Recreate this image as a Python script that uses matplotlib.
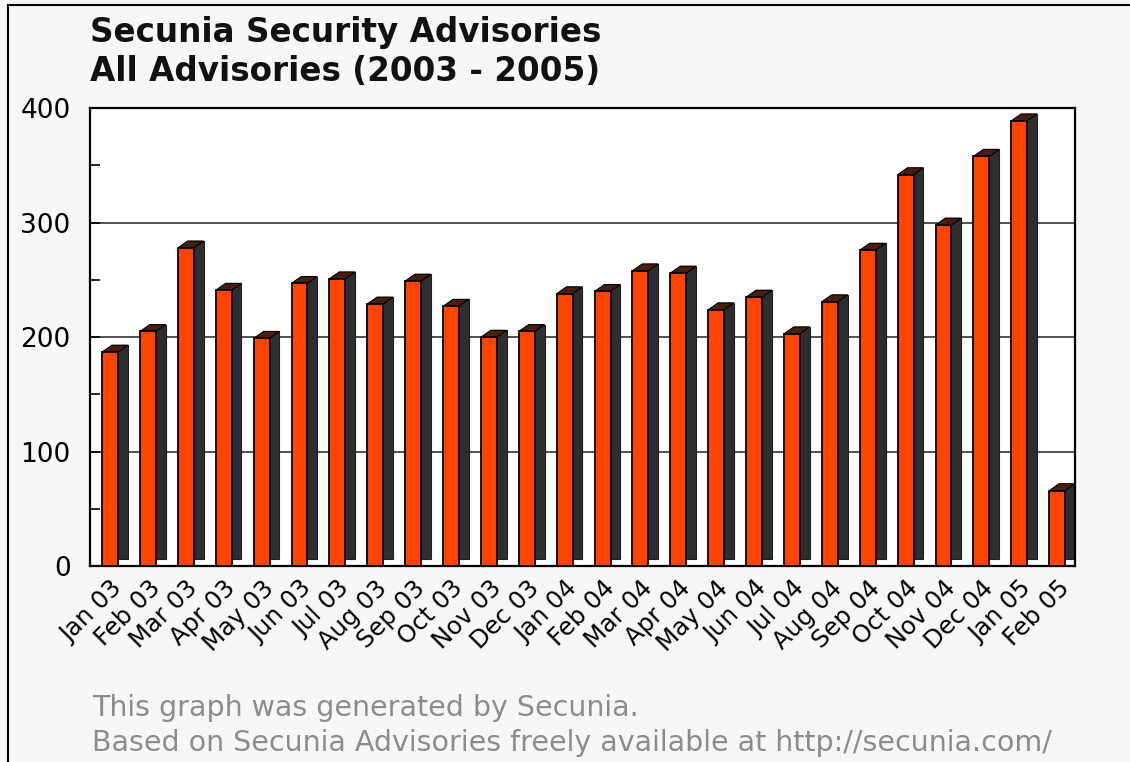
import matplotlib.pyplot as plt
from matplotlib.lines import Line2D

# monthly advisory counts
months = ["Jan 03", "Feb 03", "Mar 03", "Apr 03", "May 03", "Jun 03", "Jul 03",
          "Aug 03", "Sep 03", "Oct 03", "Nov 03", "Dec 03", "Jan 04", "Feb 04",
          "Mar 04", "Apr 04", "May 04", "Jun 04", "Jul 04", "Aug 04", "Sep 04",
          "Oct 04", "Nov 04", "Dec 04", "Jan 05", "Feb 05"]
counts = [187, 205, 278, 241, 199, 247, 251, 229, 249, 227, 200, 205, 238,
          240, 258, 256, 224, 235, 203, 231, 276, 342, 298, 358, 389, 66]
y_ticks = [0, 100, 200, 300, 400]

BAR_W = 0.42
DX = 0.26   # depth offset in x (category units)
DY = 6      # depth offset in y (data units)


def main():
    fig = plt.figure(figsize=(11.3, 7.62), dpi=100, facecolor="#f7f7f7")
    ax = fig.add_axes([0.0796, 0.257, 0.8714, 0.601])
    ax.set_facecolor("white")

    x = list(range(len(counts)))

    # gridlines behind bars
    for t in y_ticks[1:-1]:
        ax.axhline(t, color="#333333", lw=1.2, zorder=0)

    # 3d-ish shadow (back face) and top face
    ax.bar([i + DX for i in x], counts, bottom=DY, width=BAR_W,
           color="#2e2e2e", edgecolor="#1e1e1e", lw=0.8, zorder=1)
    for i, v in zip(x, counts):
        l, r = i - BAR_W / 2, i + BAR_W / 2
        ax.fill([l, r, r + DX, l + DX], [v, v, v + DY, v + DY],
                color="#4a1e0c", edgecolor="black", lw=0.8, zorder=2)
    # front faces
    ax.bar(x, counts, width=BAR_W, color="#ff4400", edgecolor="black",
           lw=1.3, zorder=3)

    ax.set_xlim(-0.53, 25.46)
    ax.set_ylim(0, 400)
    ax.set_yticks(y_ticks)
    ax.set_yticks([50, 150, 250, 350], minor=True)
    ax.tick_params(axis="y", which="both", direction="in", length=7,
                   width=1.2, labelsize=19, pad=14)
    ax.set_xticks(x)
    ax.set_xticklabels(months, rotation=45, ha="right", rotation_mode="anchor",
                       fontsize=17.5)
    ax.tick_params(axis="x", length=0, pad=7)
    for s in ax.spines.values():
        s.set_linewidth(1.6)
        s.set_color("black")

    # title
    fig.text(0.0796, 0.958, "Secunia Security Advisories", fontsize=23.5,
             fontweight="bold", va="center", ha="left", color="#111111")
    fig.text(0.0796, 0.906, "All Advisories (2003 - 2005)", fontsize=23.5,
             fontweight="bold", va="center", ha="left", color="#111111")

    # footer
    fig.text(0.0814, 0.071, "This graph was generated by Secunia.",
             fontsize=20.5, color="#8c8c8c", va="center", ha="left")
    fig.text(0.0814, 0.025,
             "Based on Secunia Advisories freely available at http://secunia.com/",
             fontsize=20.5, color="#8c8c8c", va="center", ha="left")

    # page border on the left and top
    fig.add_artist(Line2D([0.007, 0.007], [0, 0.993], color="black", lw=1.5,
                          transform=fig.transFigure))
    fig.add_artist(Line2D([0.007, 1.0], [0.993, 0.993], color="black", lw=1.5,
                          transform=fig.transFigure))

    fig.savefig("out.png", dpi=100, facecolor=fig.get_facecolor())
    plt.close(fig)


if __name__ == "__main__":
    main()
